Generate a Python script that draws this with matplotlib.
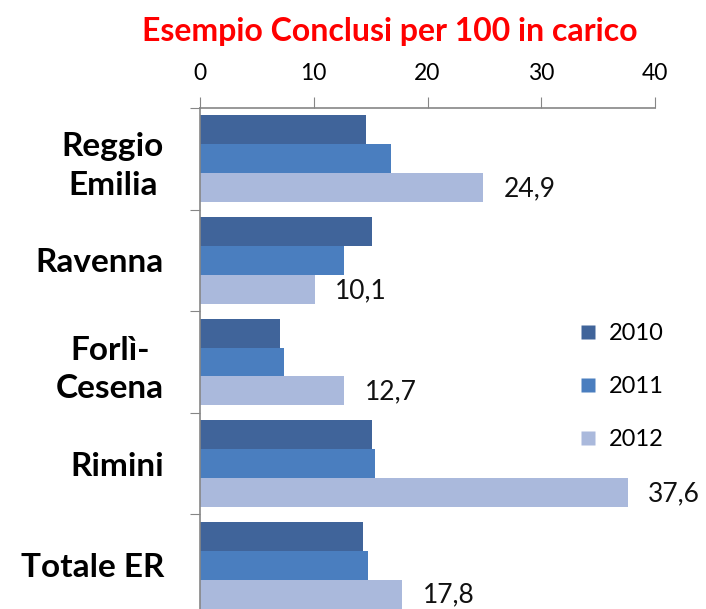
import matplotlib.pyplot as plt
from matplotlib.lines import Line2D

plt.rcParams['font.family'] = ['Lato', 'DejaVu Sans']

categories = ['Reggio\nEmilia', 'Ravenna', 'Forlì-\nCesena', 'Rimini', 'Totale ER']
years = ['2010', '2011', '2012']
v2010 = [14.6, 15.1, 7.0, 15.1, 14.3]
v2011 = [16.8, 12.7, 7.4, 15.4, 14.8]
v2012 = [24.9, 10.1, 12.7, 37.6, 17.8]
colors = ['#40649A', '#4A7EBF', '#AAB9DC']
xticks = [0, 10, 20, 30, 40]

fig = plt.figure(figsize=(7.06, 6.09), dpi=100)
ax = fig.add_axes([200/706, -7/609, 455/706, 508/609])

h = 0.285
n = len(categories)
centers = [i + 0.5 for i in range(n)]
series = [v2010, v2011, v2012]
for k, vals in enumerate(series):
    ys = [c + (k - 1) * h for c in centers]
    ax.barh(ys, vals, height=h, color=colors[k], edgecolor='none')

# value labels only on the 2012 series
for c, v in zip(centers, v2012):
    ax.text(v + 1.8, c + h + 0.01, ('%.1f' % v).replace('.', ','),
            va='center', ha='left', fontsize=19, color='#111111')

ax.set_xlim(0, 40)
ax.set_ylim(n, 0)
ax.xaxis.tick_top()
ax.set_xticks(xticks)
ax.set_xticklabels([str(t) for t in xticks], fontsize=16.5)
ax.tick_params(axis='x', length=8, color='#868686', pad=9)

ax.set_yticks(range(n + 1))
ax.set_yticklabels([])
ax.tick_params(axis='y', which='major', length=7, color='#868686')
ax.set_yticks(centers, minor=True)
ax.set_yticklabels(categories, minor=True, fontsize=24, fontweight='bold',
                   multialignment='center', linespacing=1.4)
ax.tick_params(axis='y', which='minor', length=0, pad=26)

for s in ['right', 'bottom']:
    ax.spines[s].set_visible(False)
for s in ['left', 'top']:
    ax.spines[s].set_color('#868686')
    ax.spines[s].set_linewidth(1.2)

handles = [Line2D([], [], marker='s', linestyle='none', markersize=10,
                  markerfacecolor=c, markeredgecolor='none') for c in colors]
fig.legend(handles, years, loc='upper left', bbox_to_anchor=(555/706, 1 - 302/609),
           frameon=False, fontsize=17, handletextpad=0.4, labelspacing=1.35,
           handlelength=1.0)

fig.text(390/706, 1 - 32/609, 'Esempio Conclusi per 100 in carico', color='#FF0000',
         fontsize=23, fontweight='bold', ha='center', va='center')

fig.savefig('out.png', dpi=100)
